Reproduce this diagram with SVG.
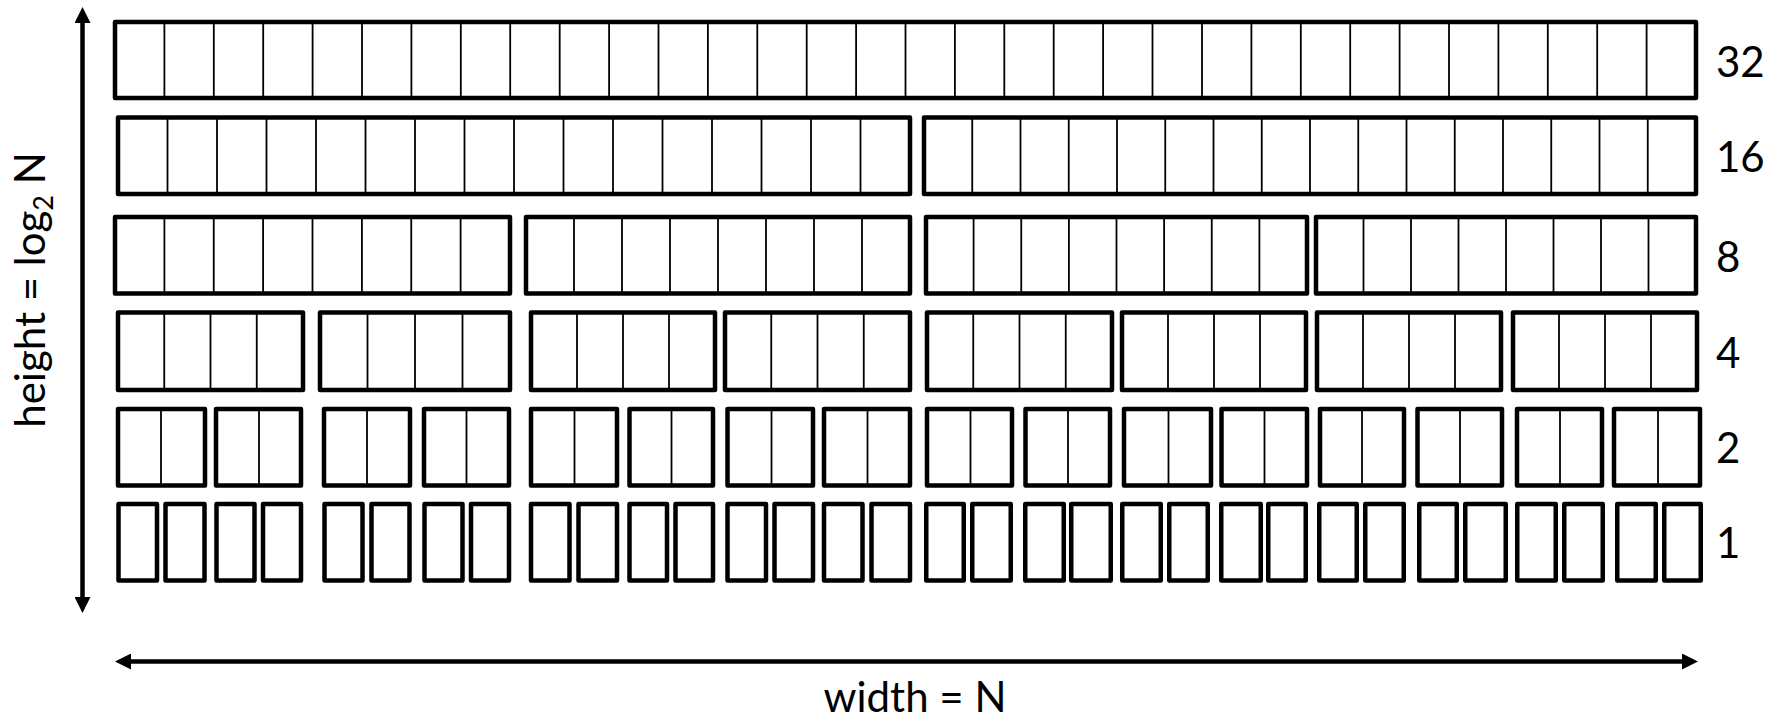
<svg xmlns="http://www.w3.org/2000/svg" width="1779" height="720" viewBox="0 0 1779 720">
<style>
.box{fill:#fff;stroke:#000;stroke-width:4.5;stroke-linejoin:round}
.div{fill:none;stroke:#000;stroke-width:1.8}
.lbl{font-family:Lato,"Noto Sans",sans-serif;font-size:42px;fill:#000}
.axis{fill:none;stroke:#000;stroke-width:4.5}
</style>
<defs>
<marker id="ah" markerUnits="userSpaceOnUse" markerWidth="16" markerHeight="16" viewBox="0 0 16 16" refX="1" refY="8" orient="auto-start-reverse">
<path d="M0,0 L16,8 L0,16 z" fill="#000"/>
</marker>
</defs>
<rect width="1779" height="720" fill="#fff"/>

<g id="row32">
<rect class="box" x="115" y="22" width="1581" height="76"/>
<path class="div" d="M164.4 22V98M213.8 22V98M263.2 22V98M312.6 22V98M362 22V98M411.4 22V98M460.8 22V98M510.2 22V98M559.7 22V98M609.1 22V98M658.5 22V98M707.9 22V98M757.3 22V98M806.7 22V98M856.1 22V98M905.5 22V98M954.9 22V98M1004.3 22V98M1053.7 22V98M1103.1 22V98M1152.5 22V98M1202 22V98M1251.4 22V98M1300.8 22V98M1350.2 22V98M1399.6 22V98M1449 22V98M1498.4 22V98M1547.8 22V98M1597.2 22V98M1646.6 22V98"/>
</g>

<g id="row16">
<g id="r16-1"><rect class="box" x="118" y="117.5" width="792" height="76.5"/>
<path class="div" d="M167.5 117.5V194M217 117.5V194M266.5 117.5V194M316 117.5V194M365.5 117.5V194M415 117.5V194M464.5 117.5V194M514 117.5V194M563.5 117.5V194M613 117.5V194M662.5 117.5V194M712 117.5V194M761.5 117.5V194M811 117.5V194M860.5 117.5V194"/></g>
<g id="r16-2"><rect class="box" x="924" y="117.5" width="772" height="76.5"/>
<path class="div" d="M972.25 117.5V194M1020.5 117.5V194M1068.75 117.5V194M1117 117.5V194M1165.25 117.5V194M1213.5 117.5V194M1261.75 117.5V194M1310 117.5V194M1358.25 117.5V194M1406.5 117.5V194M1454.75 117.5V194M1503 117.5V194M1551.25 117.5V194M1599.5 117.5V194M1647.75 117.5V194"/></g>
</g>

<g id="row8">
<g id="r8-1"><rect class="box" x="115" y="217" width="395" height="76.5"/>
<path class="div" d="M164.4 217V293.5M213.75 217V293.5M263.1 217V293.5M312.5 217V293.5M361.9 217V293.5M411.25 217V293.5M460.6 217V293.5"/></g>
<g id="r8-2"><rect class="box" x="526" y="217" width="384" height="76.5"/>
<path class="div" d="M574 217V293.5M622 217V293.5M670 217V293.5M718 217V293.5M766 217V293.5M814 217V293.5M862 217V293.5"/></g>
<g id="r8-3"><rect class="box" x="926" y="217" width="381" height="76.5"/>
<path class="div" d="M973.6 217V293.5M1021.25 217V293.5M1068.9 217V293.5M1116.5 217V293.5M1164.1 217V293.5M1211.75 217V293.5M1259.4 217V293.5"/></g>
<g id="r8-4"><rect class="box" x="1316" y="217" width="380" height="76.5"/>
<path class="div" d="M1363.5 217V293.5M1411 217V293.5M1458.5 217V293.5M1506 217V293.5M1553.5 217V293.5M1601 217V293.5M1648.5 217V293.5"/></g>
</g>

<g id="row4">
<g id="r4-1"><rect class="box" x="118" y="312.5" width="185" height="77.5"/><path class="div" d="M164.25 312.5V390M210.5 312.5V390M256.75 312.5V390"/></g>
<g id="r4-2"><rect class="box" x="320" y="312.5" width="190" height="77.5"/><path class="div" d="M367.5 312.5V390M415 312.5V390M462.5 312.5V390"/></g>
<g id="r4-3"><rect class="box" x="531" y="312.5" width="184" height="77.5"/><path class="div" d="M577 312.5V390M623 312.5V390M669 312.5V390"/></g>
<g id="r4-4"><rect class="box" x="725" y="312.5" width="185" height="77.5"/><path class="div" d="M771.25 312.5V390M817.5 312.5V390M863.75 312.5V390"/></g>
<g id="r4-5"><rect class="box" x="927" y="312.5" width="185" height="77.5"/><path class="div" d="M973.25 312.5V390M1019.5 312.5V390M1065.75 312.5V390"/></g>
<g id="r4-6"><rect class="box" x="1122" y="312.5" width="184" height="77.5"/><path class="div" d="M1168 312.5V390M1214 312.5V390M1260 312.5V390"/></g>
<g id="r4-7"><rect class="box" x="1317" y="312.5" width="184" height="77.5"/><path class="div" d="M1363 312.5V390M1409 312.5V390M1455 312.5V390"/></g>
<g id="r4-8"><rect class="box" x="1513" y="312.5" width="184" height="77.5"/><path class="div" d="M1559 312.5V390M1605 312.5V390M1651 312.5V390"/></g>
</g>

<g id="row2">
<g id="r2-1"><rect class="box" x="118" y="409" width="87" height="76.5"/><path class="div" d="M161 409V485.5"/></g>
<g id="r2-2"><rect class="box" x="216" y="409" width="85" height="76.5"/><path class="div" d="M259 409V485.5"/></g>
<g id="r2-3"><rect class="box" x="324" y="409" width="86" height="76.5"/><path class="div" d="M367 409V485.5"/></g>
<g id="r2-4"><rect class="box" x="424" y="409" width="85" height="76.5"/><path class="div" d="M466.5 409V485.5"/></g>
<g id="r2-5"><rect class="box" x="531" y="409" width="86" height="76.5"/><path class="div" d="M574.5 409V485.5"/></g>
<g id="r2-6"><rect class="box" x="629.5" y="409" width="83.5" height="76.5"/><path class="div" d="M671.5 409V485.5"/></g>
<g id="r2-7"><rect class="box" x="727.5" y="409" width="85.5" height="76.5"/><path class="div" d="M771.5 409V485.5"/></g>
<g id="r2-8"><rect class="box" x="824" y="409" width="86" height="76.5"/><path class="div" d="M867.5 409V485.5"/></g>
<g id="r2-9"><rect class="box" x="927" y="409" width="85" height="76.5"/><path class="div" d="M970.5 409V485.5"/></g>
<g id="r2-10"><rect class="box" x="1025.5" y="409" width="84.5" height="76.5"/><path class="div" d="M1068 409V485.5"/></g>
<g id="r2-11"><rect class="box" x="1124" y="409" width="87" height="76.5"/><path class="div" d="M1168.5 409V485.5"/></g>
<g id="r2-12"><rect class="box" x="1221.5" y="409" width="85.5" height="76.5"/><path class="div" d="M1264.5 409V485.5"/></g>
<g id="r2-13"><rect class="box" x="1320" y="409" width="84" height="76.5"/><path class="div" d="M1362 409V485.5"/></g>
<g id="r2-14"><rect class="box" x="1417.5" y="409" width="84.5" height="76.5"/><path class="div" d="M1460 409V485.5"/></g>
<g id="r2-15"><rect class="box" x="1517" y="409" width="85" height="76.5"/><path class="div" d="M1560 409V485.5"/></g>
<g id="r2-16"><rect class="box" x="1614" y="409" width="86" height="76.5"/><path class="div" d="M1658 409V485.5"/></g>
</g>

<g id="row1">
<rect id="r1-1" class="box" x="118.5" y="504" width="38.5" height="76.5"/>
<rect id="r1-2" class="box" x="165.5" y="504" width="39" height="76.5"/>
<rect id="r1-3" class="box" x="216.5" y="504" width="38" height="76.5"/>
<rect id="r1-4" class="box" x="263" y="504" width="38" height="76.5"/>
<rect id="r1-5" class="box" x="324.5" y="504" width="38" height="76.5"/>
<rect id="r1-6" class="box" x="371.5" y="504" width="38" height="76.5"/>
<rect id="r1-7" class="box" x="424.5" y="504" width="38" height="76.5"/>
<rect id="r1-8" class="box" x="471" y="504" width="38" height="76.5"/>
<rect id="r1-9" class="box" x="531" y="504" width="38.5" height="76.5"/>
<rect id="r1-10" class="box" x="578.5" y="504" width="38.5" height="76.5"/>
<rect id="r1-11" class="box" x="629.5" y="504" width="37.5" height="76.5"/>
<rect id="r1-12" class="box" x="675.5" y="504" width="37.5" height="76.5"/>
<rect id="r1-13" class="box" x="727.5" y="504" width="38.5" height="76.5"/>
<rect id="r1-14" class="box" x="774.5" y="504" width="38.5" height="76.5"/>
<rect id="r1-15" class="box" x="824" y="504" width="38.5" height="76.5"/>
<rect id="r1-16" class="box" x="871.5" y="504" width="38.5" height="76.5"/>
<rect id="r1-17" class="box" x="926.25" y="504" width="37.5" height="76.5"/>
<rect id="r1-18" class="box" x="972.25" y="504" width="38.5" height="76.5"/>
<rect id="r1-19" class="box" x="1025.25" y="504" width="38.5" height="76.5"/>
<rect id="r1-20" class="box" x="1071.25" y="504" width="39.5" height="76.5"/>
<rect id="r1-21" class="box" x="1122.25" y="504" width="38.5" height="76.5"/>
<rect id="r1-22" class="box" x="1169.25" y="504" width="38.5" height="76.5"/>
<rect id="r1-23" class="box" x="1221.25" y="504" width="39.5" height="76.5"/>
<rect id="r1-24" class="box" x="1268.25" y="504" width="37.5" height="76.5"/>
<rect id="r1-25" class="box" x="1319.25" y="504" width="37.5" height="76.5"/>
<rect id="r1-26" class="box" x="1365.25" y="504" width="38.5" height="76.5"/>
<rect id="r1-27" class="box" x="1419.25" y="504" width="37.5" height="76.5"/>
<rect id="r1-28" class="box" x="1465.25" y="504" width="40.5" height="76.5"/>
<rect id="r1-29" class="box" x="1517.25" y="504" width="38.5" height="76.5"/>
<rect id="r1-30" class="box" x="1564.25" y="504" width="38.5" height="76.5"/>
<rect id="r1-31" class="box" x="1617.25" y="504" width="38.5" height="76.5"/>
<rect id="r1-32" class="box" x="1664.25" y="504" width="36.5" height="76.5"/>
</g>

<g id="connectors">
<line class="axis" x1="82.5" y1="22" x2="82.5" y2="598" marker-start="url(#ah)" marker-end="url(#ah)"/>
<line class="axis" x1="130" y1="661.5" x2="1683" y2="661.5" marker-start="url(#ah)" marker-end="url(#ah)"/>
</g>

<g id="labels">
<text class="lbl" x="1716" y="77">32</text>
<text class="lbl" x="1716" y="172">16</text>
<text class="lbl" x="1716" y="272">8</text>
<text class="lbl" x="1716" y="368">4</text>
<text class="lbl" x="1716" y="463">2</text>
<text class="lbl" x="1716" y="558">1</text>
<text class="lbl" x="915" y="712" text-anchor="middle">width = N</text>
<text class="lbl" transform="translate(45,290) rotate(-90)" text-anchor="middle">height = log<tspan font-size="27" dy="8">2</tspan><tspan dy="-8"> N</tspan></text>
</g>
</svg>
